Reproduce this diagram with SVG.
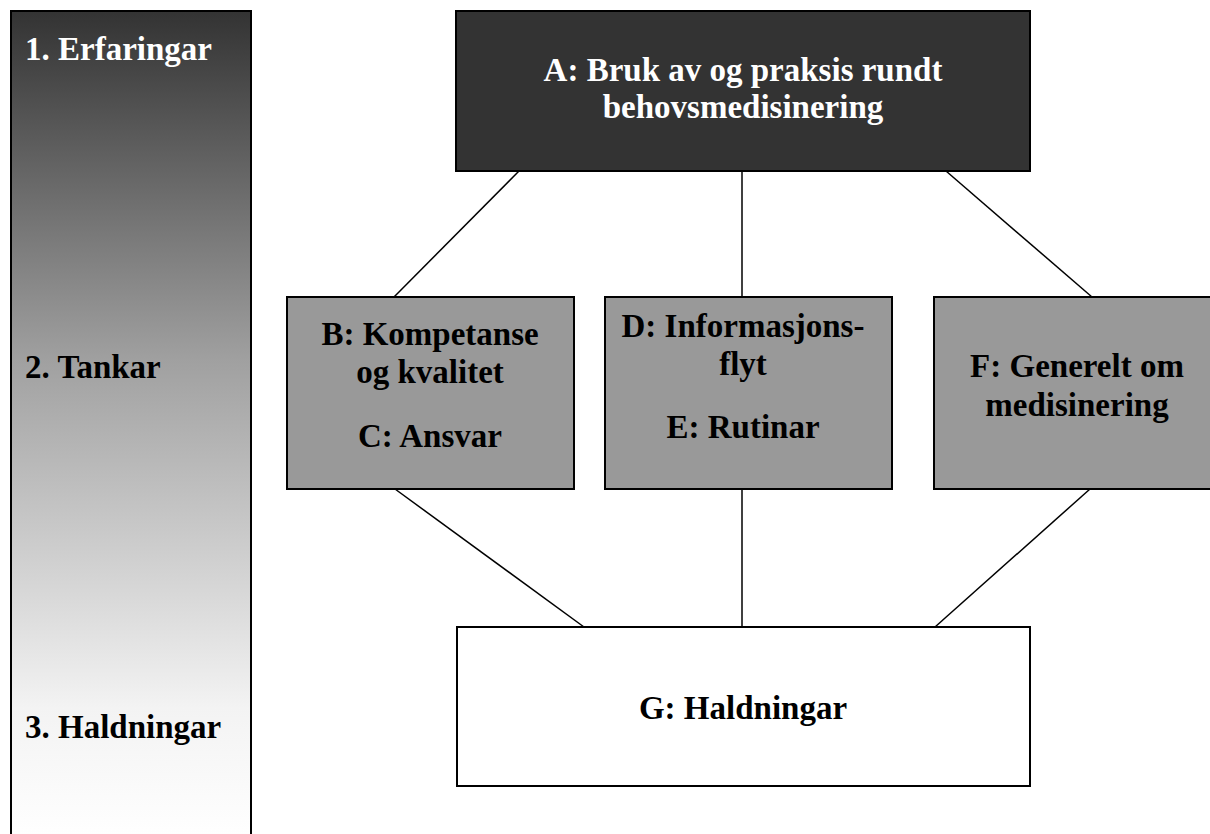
<svg xmlns="http://www.w3.org/2000/svg" width="1210" height="834" viewBox="0 0 1210 834">
<style>
  .t { font-family: "Liberation Serif", "Times New Roman", serif; font-weight: bold; font-size: 33px; fill: #000; }
  .w { fill: #fff; }
  .box { stroke: #000; stroke-width: 2; }
  .conn line { stroke: #000; stroke-width: 1.5; }
</style>
<defs>
  <linearGradient id="bar" x1="0" y1="0" x2="0" y2="1">
    <stop offset="0" stop-color="#333333"/>
    <stop offset="0.42" stop-color="#a0a0a0"/>
    <stop offset="0.84" stop-color="#f3f3f3"/>
    <stop offset="1" stop-color="#ffffff"/>
  </linearGradient>
</defs>
<rect width="1210" height="834" fill="#fff"/>

<g id="scale-bar">
  <rect x="11" y="11" width="240" height="830" fill="url(#bar)" class="box"/>
  <text class="t w" x="25" y="60">1. Erfaringar</text>
  <text class="t" x="25" y="378">2. Tankar</text>
  <text class="t" x="25" y="738">3. Haldningar</text>
</g>

<g class="conn" id="connectors">
  <line x1="519" y1="171" x2="394" y2="297"/>
  <line x1="742" y1="171" x2="742" y2="297"/>
  <line x1="946" y1="171" x2="1092" y2="297"/>
  <line x1="395" y1="489" x2="584" y2="627"/>
  <line x1="742" y1="489" x2="742" y2="627"/>
  <line x1="1090" y1="489" x2="935" y2="627"/>
</g>

<g id="nodeA">
  <rect x="456" y="11" width="574" height="160" fill="#333333" class="box"/>
  <text class="t w" x="743" y="81" text-anchor="middle">A: Bruk av og praksis rundt</text>
  <text class="t w" x="743" y="118" text-anchor="middle">behovsmedisinering</text>
</g>

<g id="nodeBC">
  <rect x="287" y="297" width="287" height="192" fill="#999999" class="box"/>
  <text class="t" x="430" y="345" text-anchor="middle">B: Kompetanse</text>
  <text class="t" x="430" y="383" text-anchor="middle">og kvalitet</text>
  <text class="t" x="430" y="447" text-anchor="middle">C: Ansvar</text>
</g>

<g id="nodeDE">
  <rect x="605" y="297" width="287" height="192" fill="#999999" class="box"/>
  <text class="t" x="743" y="337" text-anchor="middle">D: Informasjons-</text>
  <text class="t" x="743" y="375" text-anchor="middle">flyt</text>
  <text class="t" x="743" y="438" text-anchor="middle">E: Rutinar</text>
</g>

<g id="nodeF">
  <rect x="934" y="297" width="290" height="192" fill="#999999" class="box"/>
  <text class="t" x="1077" y="377" text-anchor="middle">F: Generelt om</text>
  <text class="t" x="1077" y="416" text-anchor="middle">medisinering</text>
</g>

<g id="nodeG">
  <rect x="457" y="627" width="573" height="159" fill="#ffffff" class="box"/>
  <text class="t" x="743" y="719" text-anchor="middle">G: Haldningar</text>
</g>
</svg>
